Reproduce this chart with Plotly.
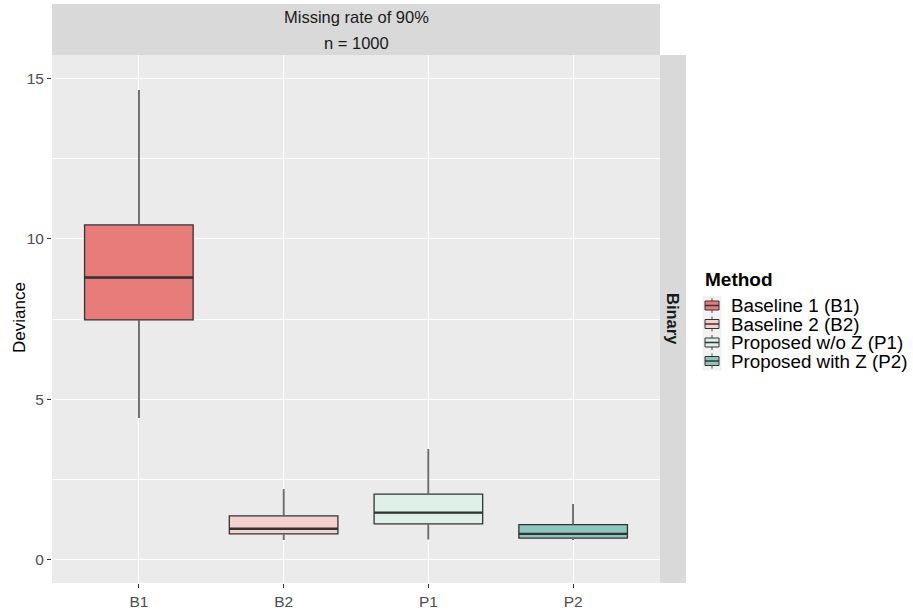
import plotly.graph_objects as go

categories = ["B1", "B2", "P1", "P2"]
method_names = ["Baseline 1 (B1)", "Baseline 2 (B2)", "Proposed w/o Z (P1)", "Proposed with Z (P2)"]
fill_colors = ["#E77C7B", "#F6CFCF", "#DFF0E8", "#8EC6BE"]
lower_whisker = [4.42, 0.62, 0.64, 0.62]
q1_vals = [7.47, 0.81, 1.12, 0.68]
median_vals = [8.79, 0.97, 1.47, 0.81]
q3_vals = [10.43, 1.37, 2.05, 1.10]
upper_whisker = [14.63, 2.20, 3.45, 1.74]

BOX_W = 0.75
OUTLINE = "#333333"
WHISKER = "#6E6E6E"

fig = go.Figure()
for i, cat in enumerate(categories):
    fig.add_trace(go.Box(
        x=[i], name=method_names[i],
        q1=[q1_vals[i]], median=[median_vals[i]], q3=[q3_vals[i]],
        lowerfence=[lower_whisker[i]], upperfence=[upper_whisker[i]],
        fillcolor=fill_colors[i], line=dict(color=OUTLINE, width=1.3),
        width=BOX_W, whiskerwidth=0, boxpoints=False, hoverinfo="skip",
        showlegend=False,
    ))
# whiskers (grey) and thick medians drawn over the boxes
for i, cat in enumerate(categories):
    fig.add_trace(go.Scatter(
        x=[i, i, None, i, i],
        y=[q3_vals[i], upper_whisker[i], None, lower_whisker[i], q1_vals[i]],
        mode="lines", line=dict(color=WHISKER, width=1.6),
        hoverinfo="skip", showlegend=False,
    ))
    fig.add_trace(go.Scatter(
        x=[i - BOX_W / 2, i + BOX_W / 2], y=[median_vals[i], median_vals[i]],
        mode="lines", line=dict(color=OUTLINE, width=2.4),
        hoverinfo="skip", showlegend=False,
    ))

L, R, T, B = 52, 253, 55, 27
W, H = 913, 610
pw, ph = W - L - R, H - T - B


def px_x(px):
    return (px - L) / pw


def px_y(py):
    return (H - B - py) / ph


fig.update_layout(
    width=W, height=H,
    margin=dict(l=L, r=R, t=T, b=B, autoexpand=False),
    paper_bgcolor="white", plot_bgcolor="#EBEBEB",
    boxmode="overlay", showlegend=False,
    font=dict(family="Liberation Sans, Arial, sans-serif", color="#000000"),
    xaxis=dict(
        range=[-0.6, 3.6], tickvals=list(range(len(categories))), ticktext=categories,
        showgrid=True, gridcolor="white", gridwidth=1.1,
        ticks="outside", ticklen=4, tickcolor="#333333",
        tickfont=dict(size=15.5, color="#4D4D4D"), zeroline=False, showline=False,
        automargin=False,
    ),
    yaxis=dict(
        range=[-0.72, 15.72], tickvals=[0, 5, 10, 15], ticktext=["0", "5", "10", "15"],
        showgrid=True, gridcolor="white", gridwidth=1.1,
        minor=dict(tickvals=[2.5, 7.5, 12.5], showgrid=True, gridcolor="white", gridwidth=0.5),
        ticks="outside", ticklen=4, tickcolor="#333333",
        tickfont=dict(size=15.5, color="#4D4D4D"), zeroline=False, showline=False,
        automargin=False,
    ),
)

# y-axis title
fig.add_annotation(xref="paper", yref="paper", x=px_x(19), y=px_y(318), text="Deviance",
                   showarrow=False, textangle=-90, font=dict(size=17, color="#000000"),
                   xanchor="center", yanchor="middle")

# top strip
fig.add_shape(type="rect", xref="paper", yref="paper", x0=0, x1=1,
              y0=1, y1=px_y(4), fillcolor="#D9D9D9", line=dict(width=0), layer="below")
# right strip
fig.add_shape(type="rect", xref="paper", yref="paper", x0=1, x1=px_x(686),
              y0=0, y1=1, fillcolor="#D9D9D9", line=dict(width=0), layer="below")

fig.add_annotation(xref="paper", yref="paper", x=0.5, y=px_y(17), text="Missing rate of 90%",
                   showarrow=False, font=dict(size=16.5, color="#1A1A1A"), yanchor="middle")
fig.add_annotation(xref="paper", yref="paper", x=0.5, y=px_y(43), text="n = 1000",
                   showarrow=False, font=dict(size=16.5, color="#1A1A1A"), yanchor="middle")
fig.add_annotation(xref="paper", yref="paper", x=px_x(673), y=px_y(319), text="<b>Binary</b>",
                   showarrow=False, textangle=90, font=dict(size=16.5, color="#1A1A1A"),
                   xanchor="center", yanchor="middle")

# legend (drawn manually to match ggplot spacing)
fig.add_annotation(xref="paper", yref="paper", x=px_x(703), y=px_y(279), text="<b>Method</b>",
                   showarrow=False, font=dict(size=19, color="#000000"),
                   xanchor="left", yanchor="middle")
item_y = [305.5, 324, 342.5, 361]
fig.add_shape(type="rect", xref="paper", yref="paper", x0=px_x(702.5), x1=px_x(721.5),
              y0=px_y(item_y[-1] + 9.5), y1=px_y(item_y[0] - 9.5),
              fillcolor="#F2F2F2", line=dict(width=0))
for i, name in enumerate(method_names):
    cy = item_y[i]
    fig.add_shape(type="line", xref="paper", yref="paper", x0=px_x(712), x1=px_x(712),
                  y0=px_y(cy - 7.5), y1=px_y(cy + 7.5), line=dict(color=WHISKER, width=1.3))
    fig.add_shape(type="rect", xref="paper", yref="paper", x0=px_x(705), x1=px_x(719),
                  y0=px_y(cy + 4.5), y1=px_y(cy - 4.5),
                  fillcolor=fill_colors[i], line=dict(color=OUTLINE, width=1))
    fig.add_shape(type="line", xref="paper", yref="paper", x0=px_x(705), x1=px_x(719),
                  y0=px_y(cy), y1=px_y(cy), line=dict(color=OUTLINE, width=1.5))
    fig.add_annotation(xref="paper", yref="paper", x=px_x(730), y=px_y(cy), text=name,
                       showarrow=False, font=dict(size=18.8, color="#000000"),
                       xanchor="left", yanchor="middle", borderpad=0)

fig.write_html(
    "out.html",
    config={"displayModeBar": False},
    post_script="document.body.style.margin='0';document.body.style.overflow='hidden';",
)
